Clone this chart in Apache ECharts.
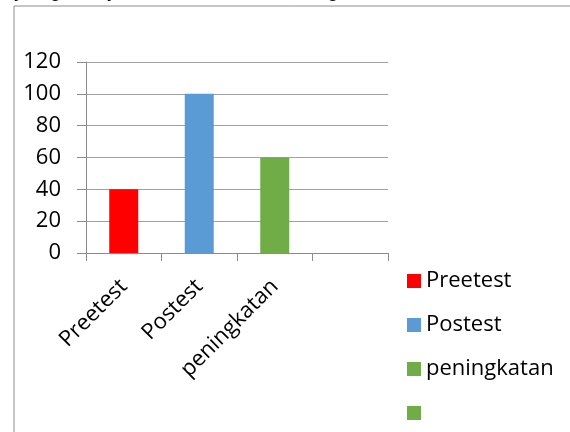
<!DOCTYPE html>
<html>
<head>
<meta charset="utf-8">
<script src="https://cdn.jsdelivr.net/npm/echarts@6/dist/echarts.min.js"></script>
<style>
  html, body { margin: 0; padding: 0; background: #fff; }
</style>
</head>
<body>
<div id="main" style="width: 570px; height: 432px;"></div>
<script>
// categories and values
const categories = ['Preetest', 'Postest', 'peningkatan', '']
const seriesNames = ['Preetest', 'Postest', 'peningkatan', ' ']
const preetest = [40, null, null, null]
const postest = [null, 100, null, null]
const peningkatan = [null, null, 60, null]
const blank = [null, null, null, null]
const colors = ['#FF0000', '#5B9BD5', '#70AD47', '#70AD47']
const yTicks = [0, 20, 40, 60, 80, 100, 120]

const myChart = echarts.init(document.getElementById('main'))
const font = '"Open Sans", Lato, sans-serif'

const allData = [preetest, postest, peningkatan, blank]
const series = seriesNames.map(function (name, i) {
  return {
    name: name,
    type: 'bar',
    stack: 'one',
    barWidth: 29,
    color: colors[i],
    data: allData[i]
  }
})

const option = {
  backgroundColor: '#fff',
  animation: false,
  graphic: [
    {
      type: 'rect',
      shape: { x: 14, y: 6, width: 700, height: 600 },
      style: { fill: 'none', stroke: '#8c8c8c', lineWidth: 1 }
    },
    {
      type: 'text',
      left: 14,
      top: -21,
      style: {
        text: 'yang disajikan dalam bentuk diagram.',
        font: '22px "Liberation Sans", Arial, sans-serif',
        fill: '#000'
      }
    }
  ],
  legend: {
    orient: 'vertical',
    left: 402,
    top: 265,
    itemWidth: 14,
    itemHeight: 14,
    itemGap: 22,
    icon: 'rect',
    data: seriesNames,
    textStyle: { fontSize: 22, color: '#000', fontFamily: font }
  },
  grid: {
    left: 86,
    right: 182,
    top: 62,
    bottom: 179,
    containLabel: false
  },
  xAxis: {
    type: 'category',
    data: categories,
    boundaryGap: true,
    axisLine: { lineStyle: { color: '#8c8c8c', width: 1 } },
    axisTick: { show: true, length: 8, alignWithLabel: false, lineStyle: { color: '#8c8c8c' } },
    axisLabel: {
      interval: 0,
      rotate: 45,
      margin: 30,
      fontSize: 22,
      color: '#000',
      fontFamily: font
    }
  },
  yAxis: {
    type: 'value',
    min: yTicks[0],
    max: yTicks[yTicks.length - 1],
    interval: 20,
    axisLine: { show: true, lineStyle: { color: '#8c8c8c', width: 1 } },
    axisTick: { show: true, length: 9, lineStyle: { color: '#8c8c8c' } },
    splitLine: { show: true, lineStyle: { color: '#a0a0a0', width: 1 } },
    axisLabel: {
      margin: 25,
      fontSize: 22,
      color: '#000',
      fontFamily: font
    }
  },
  series: series
}

myChart.setOption(option)
</script>
</body>
</html>
